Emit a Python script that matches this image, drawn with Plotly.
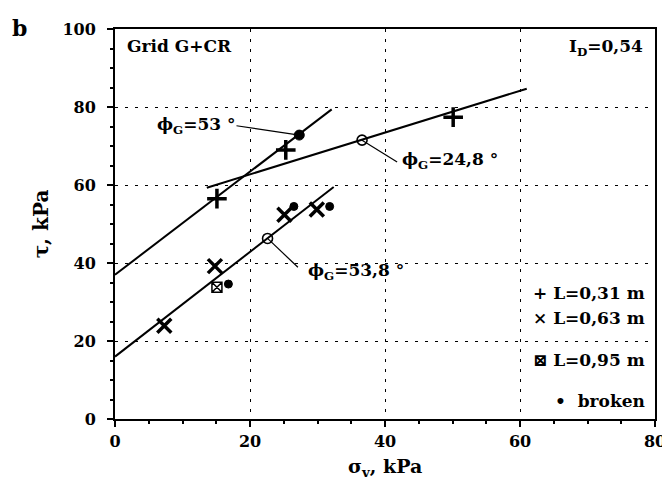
import plotly.graph_objects as go

# ---- data ----
# L = 0,31 m  (+)
plus_x = [15.1, 25.3, 50.1]
plus_y = [56.5, 69.0, 77.4]
# L = 0,63 m  (x)
cross_x = [7.3, 14.8, 25.1, 29.9]
cross_y = [23.9, 39.2, 52.4, 53.7]
# L = 0,95 m  (boxed x)
box_x = [15.1]
box_y = [33.8]
# broken specimens (filled dots)
broken_x = [16.8, 26.5, 31.8, 27.3]
broken_y = [34.6, 54.5, 54.5, 72.8]
broken_size = [8, 8, 8, 10]
# fitted-line reference points (open circles)
ref_x = [22.6, 36.6]
ref_y = [46.3, 71.5]

# fitted lines (end points)
line53_x = [0.0, 32.1]
line53_y = [37.0, 79.4]
line248_x = [13.6, 61.0]
line248_y = [59.3, 84.7]
line538_x = [0.0, 32.4]
line538_y = [16.0, 59.5]

# leader lines for the angle labels
lead53_x = [18.0, 27.3]
lead53_y = [75.2, 72.8]
lead248_x = [36.6, 41.8]
lead248_y = [71.5, 65.9]
lead538_x = [22.6, 27.1]
lead538_y = [46.3, 38.9]

x_ticks = [0, 20, 40, 60, 80]
y_ticks = [0, 20, 40, 60, 80, 100]

FONT = "DejaVu Serif"
BLACK = "#000000"

fig = go.Figure()

def line(xs, ys, w):
    fig.add_trace(go.Scatter(x=xs, y=ys, mode="lines",
                             line=dict(color=BLACK, width=w),
                             showlegend=False, hoverinfo="skip"))

line(line53_x, line53_y, 2)
line(line248_x, line248_y, 2)
line(line538_x, line538_y, 2)
line(lead53_x, lead53_y, 1.2)
line(lead248_x, lead248_y, 1.2)
line(lead538_x, lead538_y, 1.2)

fig.add_trace(go.Scatter(x=plus_x, y=plus_y, mode="markers", name="L=0,31 m",
                         marker=dict(symbol="cross-thin", size=14,
                                     line=dict(color=BLACK, width=3.5)),
                         showlegend=False))
fig.add_trace(go.Scatter(x=cross_x, y=cross_y, mode="markers", name="L=0,63 m",
                         marker=dict(symbol="x-thin", size=14,
                                     line=dict(color=BLACK, width=3.5)),
                         showlegend=False))
fig.add_trace(go.Scatter(x=box_x, y=box_y, mode="markers", name="L=0,95 m",
                         marker=dict(symbol="square-x-open", size=10, color=BLACK,
                                     line=dict(color=BLACK, width=1.5)),
                         showlegend=False))
fig.add_trace(go.Scatter(x=broken_x, y=broken_y, mode="markers", name="broken",
                         marker=dict(symbol="circle", size=broken_size, color=BLACK,
                                     opacity=1, line=dict(color=BLACK, width=1)),
                         showlegend=False))
fig.add_trace(go.Scatter(x=ref_x, y=ref_y, mode="markers", name="reference",
                         marker=dict(symbol="circle-open", size=10, color=BLACK,
                                     line=dict(color=BLACK, width=1.6)),
                         showlegend=False))

ann_font = dict(family=FONT, size=17, color=BLACK)
annotations = [
    dict(x=5.9, y=75.3, xref="x", yref="y", text="<b>ϕ<sub>G</sub>=53 °</b>",
         xanchor="left", yanchor="middle", showarrow=False, font=ann_font),
    dict(x=42.2, y=66.4, xref="x", yref="y", text="<b>ϕ<sub>G</sub>=24,8 °</b>",
         xanchor="left", yanchor="middle", showarrow=False, font=ann_font),
    dict(x=28.3, y=37.7, xref="x", yref="y", text="<b>ϕ<sub>G</sub>=53,8 °</b>",
         xanchor="left", yanchor="middle", showarrow=False, font=ann_font),
    dict(x=117, y=481 - 35, text="<b>Grid G+CR</b>",
         xanchor="left", yanchor="middle", showarrow=False, font=ann_font),
    dict(x=643, y=481 - 37, text="<b>I<sub>D</sub>=0,54</b>",
         xanchor="right", yanchor="middle", showarrow=False, font=ann_font),
    dict(x=10, y=481 - 17, text="<b>b</b>",
         xanchor="center", yanchor="middle", showarrow=False,
         font=dict(family=FONT, size=22, color=BLACK)),
    dict(x=645, y=481 - 284, text="<b>+ L=0,31 m</b>",
         xanchor="right", yanchor="middle", showarrow=False, font=ann_font),
    dict(x=645, y=481 - 309, text="<b>× L=0,63 m</b>",
         xanchor="right", yanchor="middle", showarrow=False, font=ann_font),
    dict(x=645, y=481 - 352, text="<b>⊠ L=0,95 m</b>",
         xanchor="right", yanchor="middle", showarrow=False, font=ann_font),
    dict(x=645, y=481 - 393, text="<b>•  broken</b>",
         xanchor="right", yanchor="middle", showarrow=False, font=ann_font),
    # x axis title
    dict(x=380, y=481 - 460, text="<b>σ<sub>v</sub>, kPa</b>",
         xanchor="center", yanchor="middle", showarrow=False,
         font=dict(family=FONT, size=19, color=BLACK)),
]
# convert pixel-positioned annotations to paper coords
W, H = 670, 481
ML, MR, MT, MB = 107, 17, 18, 70
pw, ph = W - ML - MR, H - MT - MB
for a in annotations:
    if a.get("xref") != "x":
        a["xref"] = "paper"
        a["yref"] = "paper"
        a["x"] = (a["x"] - ML) / pw
        a["y"] = (a["y"] - MB) / ph

tick_font = dict(family=FONT, size=16, color=BLACK)
fig.update_layout(
    width=W, height=H,
    margin=dict(l=ML, r=MR, t=MT, b=MB),
    plot_bgcolor="white", paper_bgcolor="white",
    annotations=annotations,
    showlegend=False,
    xaxis=dict(range=[0, 80], tickvals=x_ticks, ticktext=[f"<b>{v}</b>" for v in x_ticks],
               showline=True, linecolor=BLACK, linewidth=2, mirror=True,
               ticks="outside", ticklen=6, tickwidth=1.5, tickcolor=BLACK,
               minor=dict(dtick=5, ticks="outside", ticklen=3, tickcolor=BLACK, showgrid=False),
               showgrid=True, gridcolor=BLACK, gridwidth=1.3, griddash="3px,7px",
               zeroline=False, tickfont=tick_font, ticklabelstandoff=1),
    yaxis=dict(range=[0, 100], tickvals=y_ticks, ticktext=[f"<b>{v}</b>" for v in y_ticks],
               showline=True, linecolor=BLACK, linewidth=2, mirror=True,
               ticks="outside", ticklen=6, tickwidth=1.5, tickcolor=BLACK,
               minor=dict(dtick=5, ticks="outside", ticklen=3, tickcolor=BLACK, showgrid=False),
               showgrid=True, gridcolor=BLACK, gridwidth=1.3, griddash="3px,7px",
               zeroline=False, tickfont=tick_font, ticklabelstandoff=8,
               title=dict(text="<b>τ, kPa</b>", standoff=8,
                          font=dict(family=FONT, size=20, color=BLACK))),
)

fig.write_html("out.html")
